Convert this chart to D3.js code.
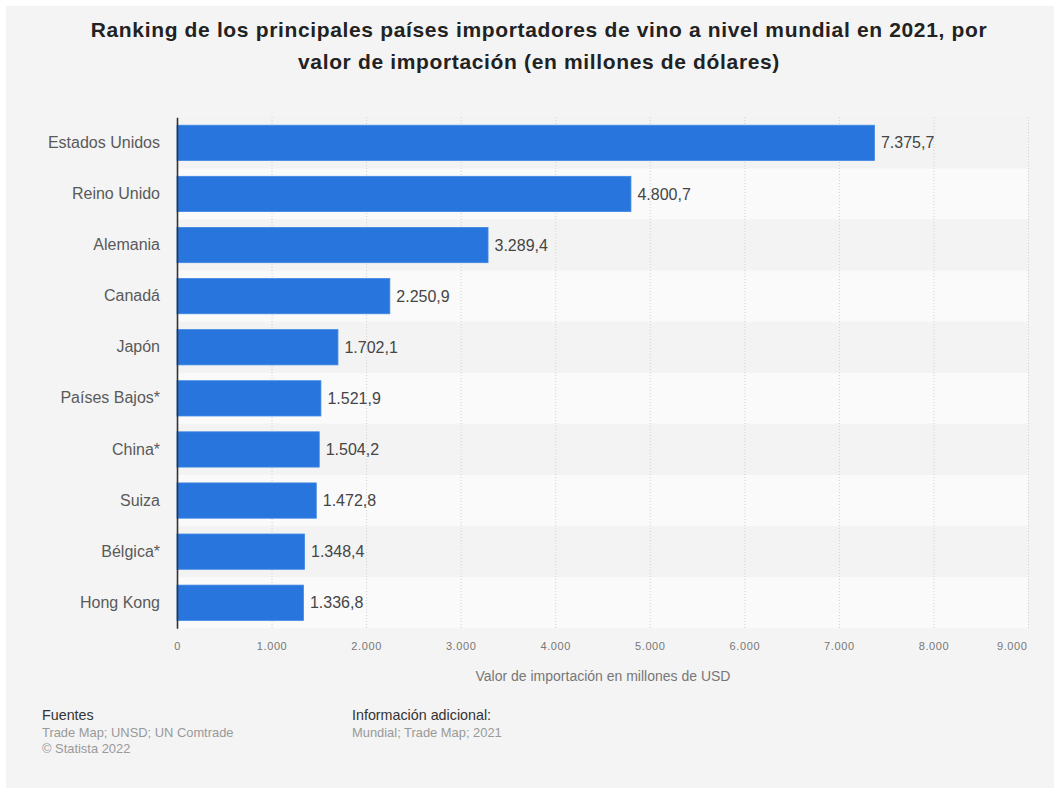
<!DOCTYPE html>
<html><head><meta charset="utf-8">
<script src="https://cdn.jsdelivr.net/npm/d3@7"></script>
<style>
html,body{margin:0;padding:0;background:#fff;}
svg{display:block;font-family:"Liberation Sans",Arial,Helvetica,sans-serif;}
</style></head>
<body>
<script>
const categories = ["Estados Unidos","Reino Unido","Alemania","Canadá","Japón","Países Bajos*","China*","Suiza","Bélgica*","Hong Kong"];
const values = [7375.7,4800.7,3289.4,2250.9,1702.1,1521.9,1504.2,1472.8,1348.4,1336.8];
const ticks = [0,1000,2000,3000,4000,5000,6000,7000,8000,9000];
const titleLines = ["Ranking de los principales países importadores de vino a nivel mundial en 2021, por","valor de importación (en millones de dólares)"];
const xTitle = "Valor de importación en millones de USD";

const W = 1060, H = 792;
const svg = d3.select("body").append("svg").attr("width", W).attr("height", H);
svg.append("rect").attr("x",6).attr("y",6).attr("width",W-12).attr("height",H-10).attr("fill","#f4f4f4");

const fmt = v => {
  const s = v.toFixed(1).split(".");
  return s[0].replace(/\B(?=(\d{3})+(?!\d))/g,".") + "," + s[1];
};
const fmtTick = v => String(v).replace(/\B(?=(\d{3})+(?!\d))/g,".");

const x = d3.scaleLinear().domain([0,9000]).range([177,1028]);
const yBand = d3.scaleBand().domain(categories).range([117.3,628.3]);
const y = d3.scaleBand().domain(categories).range([117.3,628.3]).paddingInner(0.31).paddingOuter(0.155);

// title
svg.append("g").selectAll("text").data(titleLines).join("text")
  .attr("x",539).attr("y",(d,i)=>37+i*32).attr("text-anchor","middle")
  .attr("font-size",21).attr("font-weight","bold").attr("letter-spacing","0.65px").attr("fill","#222").text(d=>d);

// row bands
svg.append("g").selectAll("rect").data(categories).join("rect")
  .attr("x",177).attr("width",1028-177).attr("y",d=>yBand(d)).attr("height",yBand.bandwidth())
  .attr("fill",(d,i)=> i%2 ? "#fafafa" : "#f3f3f3");

// gridlines
svg.append("g").selectAll("line").data(ticks.slice(1)).join("line")
  .attr("x1",d=>x(d)+0.5).attr("x2",d=>x(d)+0.5).attr("y1",117).attr("y2",628)
  .attr("stroke","#d0d0d0").attr("stroke-width",1).attr("stroke-dasharray","1,2");

// bars
svg.append("g").selectAll("rect").data(values).join("rect")
  .attr("x",x(0)).attr("y",(d,i)=>y(categories[i]))
  .attr("width",d=>x(d)-x(0)).attr("height",y.bandwidth())
  .attr("fill","#2876dd").attr("stroke","#3d86e4").attr("stroke-width",0.8);

// value labels
svg.append("g").selectAll("text").data(values).join("text")
  .attr("x",d=>x(d)+6.5).attr("y",(d,i)=>y(categories[i])+y.bandwidth()/2)
  .attr("dy","0.35em").attr("font-size",16).attr("fill","#454545").text(d=>fmt(d));

// y axis
const yAxis = svg.append("g").attr("transform","translate(177,0)")
  .call(d3.axisLeft(yBand).tickSize(0).tickPadding(17));
yAxis.select(".domain").attr("stroke","#333").attr("stroke-width",1.6);
yAxis.selectAll("text").attr("font-size",16).attr("fill","#5a5a5a").attr("font-family","Liberation Sans, Arial, sans-serif");

// x axis
const xAxis = svg.append("g").attr("transform","translate(0,628)")
  .call(d3.axisBottom(x).tickValues(ticks).tickFormat(fmtTick).tickSize(0).tickPadding(14));
xAxis.select(".domain").remove();
xAxis.selectAll("text").attr("font-size",11).attr("fill","#777").attr("letter-spacing","0.6px").attr("font-family","Liberation Sans, Arial, sans-serif");
xAxis.selectAll(".tick").filter(d=>d===9000).select("text").attr("text-anchor","end").attr("dx",-1);

svg.append("text").attr("x",603).attr("y",681).attr("text-anchor","middle")
  .attr("font-size",14).attr("fill","#777").text(xTitle);

// footer
const foot = [
  {x:42,y:720,t:"Fuentes",c:"#333",s:14.3},
  {x:42,y:737,t:"Trade Map; UNSD; UN Comtrade",c:"#999",s:12.9},
  {x:42,y:753,t:"© Statista 2022",c:"#999",s:12.9},
  {x:352,y:720,t:"Información adicional:",c:"#333",s:14.3},
  {x:352,y:737,t:"Mundial; Trade Map; 2021",c:"#999",s:12.9}
];
svg.append("g").selectAll("text").data(foot).join("text")
  .attr("x",d=>d.x).attr("y",d=>d.y).attr("font-size",d=>d.s).attr("fill",d=>d.c).text(d=>d.t);
</script>
</body></html>
